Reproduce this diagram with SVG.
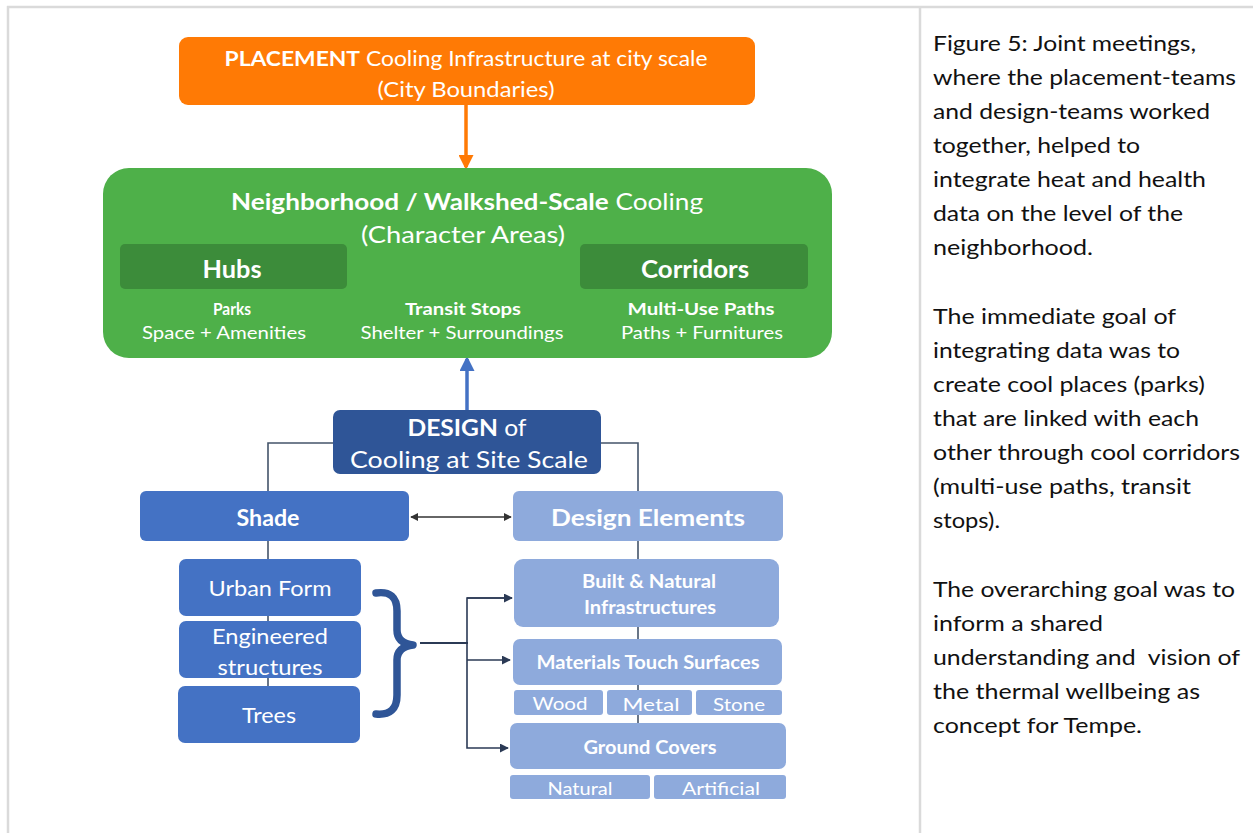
<svg xmlns="http://www.w3.org/2000/svg" width="1253" height="833" viewBox="0 0 1253 833">
  <style>
    .frame { stroke: #dadada; stroke-width: 2.5; fill: none; }
    .t { font-family: Lato, "Liberation Sans", sans-serif; fill: #ffffff; text-anchor: middle; dominant-baseline: central; }
    .b { font-weight: bold; }
    .r { font-weight: normal; }
    .cap { font-family: Lato, "Liberation Sans", sans-serif; fill: #111111; font-size: 21px; }
    .link { stroke: #44546a; stroke-width: 1.6; fill: none; }
    .dbl { stroke: #333333; stroke-width: 1.4; fill: none; }
    .orange { fill: #ff7a05; }
    .green { fill: #4eb049; }
    .dgreen { fill: #3c8c3a; }
    .navy { fill: #2f5597; }
    .blue { fill: #4472c4; }
    .light { fill: #8eaadc; }
  </style>
  <defs>
    <marker id="headOrange" viewBox="0 0 10 10" refX="8" refY="5" markerWidth="15" markerHeight="15" orient="auto" markerUnits="userSpaceOnUse">
      <path d="M0,0 L10,5 L0,10 z" fill="#ff7a05"/>
    </marker>
    <marker id="headBlue" viewBox="0 0 10 10" refX="8" refY="5" markerWidth="15" markerHeight="15" orient="auto" markerUnits="userSpaceOnUse">
      <path d="M0,0 L10,5 L0,10 z" fill="#4472c4"/>
    </marker>
    <marker id="headDark" viewBox="0 0 10 10" refX="9" refY="5" markerWidth="8" markerHeight="8" orient="auto-start-reverse" markerUnits="userSpaceOnUse">
      <path d="M0,0 L10,5 L0,10 z" fill="#333333"/>
    </marker>
    <marker id="headSlate" viewBox="0 0 10 10" refX="9" refY="5" markerWidth="9" markerHeight="9" orient="auto" markerUnits="userSpaceOnUse">
      <path d="M0,0 L10,5 L0,10 z" fill="#2b3a55"/>
    </marker>
  </defs>

  <rect x="0" y="0" width="1253" height="833" fill="#ffffff"/>

  <!-- page frame: top rule, left rule, column divider -->
  <g id="frame">
    <line class="frame" x1="7" y1="7" x2="1253" y2="7"/>
    <line class="frame" x1="8" y1="6" x2="8" y2="833"/>
    <line class="frame" x1="920" y1="6" x2="920" y2="833"/>
  </g>

  <!-- connectors -->
  <g id="connectors">
    <line x1="466" y1="105" x2="466" y2="167" stroke="#ff7a05" stroke-width="3.5" marker-end="url(#headOrange)"/>
    <line x1="467" y1="410" x2="467" y2="359" stroke="#4472c4" stroke-width="3.5" marker-end="url(#headBlue)"/>
    <line class="dbl" x1="349" y1="262" x2="578" y2="262" marker-start="url(#headDark)" marker-end="url(#headDark)"/>
    <line class="dbl" x1="411" y1="517" x2="511" y2="517" marker-start="url(#headDark)" marker-end="url(#headDark)"/>
    <polyline class="link" points="333,443 268,443 268,491"/>
    <polyline class="link" points="601,443 638,443 638,491"/>
    <line class="link" x1="268" y1="541" x2="268" y2="690"/>
    <line class="link" x1="638" y1="541" x2="638" y2="725"/>
    <path d="M376,593 Q397,590 397,611 L397,630 Q397,643 413,645 Q397,647 397,660 L397,695 Q397,716 376,714" fill="none" stroke="#2f5597" stroke-width="7.5" stroke-linecap="round" stroke-linejoin="round"/>
    <line x1="420" y1="643" x2="468" y2="643" stroke="#2b3a55" stroke-width="2"/>
    <polyline points="512,598 467,598 467,748 508,748" fill="none" stroke="#2b3a55" stroke-width="1.6" marker-end="url(#headSlate)"/>
    <line x1="467" y1="598" x2="512" y2="598" stroke="#2b3a55" stroke-width="1.6" marker-end="url(#headSlate)"/>
    <line x1="467" y1="660" x2="510" y2="660" stroke="#2b3a55" stroke-width="1.6" marker-end="url(#headSlate)"/>
  </g>

  <g id="placement">
    <rect class="orange" x="179" y="37" width="576" height="68" rx="9"/>
    <text class="t" x="466" y="57" font-size="21" textLength="483" lengthAdjust="spacingAndGlyphs"><tspan class="b">PLACEMENT</tspan><tspan class="r"> Cooling Infrastructure at city scale</tspan></text>
    <text class="t r" x="466" y="88" font-size="21" textLength="177" lengthAdjust="spacingAndGlyphs">(City Boundaries)</text>
  </g>

  <g id="neighborhood">
    <rect class="green" x="103" y="168" width="729" height="190" rx="26"/>
    <text class="t" x="467" y="201" font-size="23" textLength="472" lengthAdjust="spacingAndGlyphs"><tspan class="b">Neighborhood / Walkshed-Scale</tspan><tspan class="r"> Cooling</tspan></text>
    <text class="t r" x="463" y="234" font-size="23" textLength="204" lengthAdjust="spacingAndGlyphs">(Character Areas)</text>
  </g>

  <g id="hubs">
    <rect class="dgreen" x="120" y="244" width="227" height="45" rx="5"/>
    <text class="t b" x="232" y="268" font-size="24" textLength="59" lengthAdjust="spacingAndGlyphs">Hubs</text>
    <text class="t b" x="232" y="308" font-size="17" textLength="38" lengthAdjust="spacingAndGlyphs">Parks</text>
    <text class="t r" x="224" y="332" font-size="17" textLength="164" lengthAdjust="spacingAndGlyphs">Space + Amenities</text>
  </g>

  <g id="transit">
    <text class="t b" x="463" y="308" font-size="17" textLength="116" lengthAdjust="spacingAndGlyphs">Transit Stops</text>
    <text class="t r" x="462" y="332" font-size="17" textLength="203" lengthAdjust="spacingAndGlyphs">Shelter + Surroundings</text>
  </g>

  <g id="corridors">
    <rect class="dgreen" x="580" y="244" width="228" height="45" rx="5"/>
    <text class="t b" x="695" y="268" font-size="24" textLength="108" lengthAdjust="spacingAndGlyphs">Corridors</text>
    <text class="t b" x="701" y="308" font-size="17" textLength="147" lengthAdjust="spacingAndGlyphs">Multi-Use Paths</text>
    <text class="t r" x="702" y="332" font-size="17" textLength="162" lengthAdjust="spacingAndGlyphs">Paths + Furnitures</text>
  </g>

  <g id="design">
    <rect class="navy" x="333" y="410" width="268" height="64" rx="7"/>
    <text class="t" x="467" y="427" font-size="23" textLength="119" lengthAdjust="spacingAndGlyphs"><tspan class="b">DESIGN</tspan><tspan class="r"> of</tspan></text>
    <text class="t r" x="469" y="459" font-size="23" textLength="238" lengthAdjust="spacingAndGlyphs">Cooling at Site Scale</text>
  </g>

  <g id="shade">
    <rect class="blue" x="140" y="491" width="269" height="50" rx="6"/>
    <text class="t b" x="268" y="517" font-size="23" textLength="63" lengthAdjust="spacingAndGlyphs">Shade</text>
  </g>

  <g id="design-elements">
    <rect class="light" x="513" y="491" width="270" height="50" rx="6"/>
    <text class="t b" x="648" y="517" font-size="23" textLength="194" lengthAdjust="spacingAndGlyphs">Design Elements</text>
  </g>

  <g id="urban-form">
    <rect class="blue" x="179" y="559" width="182" height="57" rx="7"/>
    <text class="t r" x="270" y="587" font-size="22" textLength="123" lengthAdjust="spacingAndGlyphs">Urban Form</text>
  </g>

  <g id="engineered">
    <rect class="blue" x="179" y="621" width="182" height="57" rx="7"/>
    <text class="t r" x="270" y="635" font-size="22" textLength="116" lengthAdjust="spacingAndGlyphs">Engineered</text>
    <text class="t r" x="270" y="666" font-size="22" textLength="105" lengthAdjust="spacingAndGlyphs">structures</text>
  </g>

  <g id="trees">
    <rect class="blue" x="178" y="686" width="182" height="57" rx="7"/>
    <text class="t r" x="269" y="714" font-size="22" textLength="54" lengthAdjust="spacingAndGlyphs">Trees</text>
  </g>

  <g id="built-natural">
    <rect class="light" x="514" y="559" width="265" height="68" rx="9"/>
    <text class="t b" x="649" y="581" font-size="18" textLength="134" lengthAdjust="spacingAndGlyphs">Built &amp; Natural</text>
    <text class="t b" x="650" y="607" font-size="18" textLength="132" lengthAdjust="spacingAndGlyphs">Infrastructures</text>
  </g>

  <g id="materials">
    <rect class="light" x="513" y="639" width="269" height="46" rx="7"/>
    <text class="t b" x="648" y="662" font-size="18" textLength="223" lengthAdjust="spacingAndGlyphs">Materials Touch Surfaces</text>
  </g>

  <g id="wood">
    <rect class="light" x="514" y="690" width="89" height="25" rx="3"/>
    <text class="t r" x="560" y="703" font-size="18" textLength="55" lengthAdjust="spacingAndGlyphs">Wood</text>
  </g>
  <g id="metal">
    <rect class="light" x="607" y="690" width="85" height="25" rx="3"/>
    <text class="t r" x="651" y="704" font-size="18" textLength="57" lengthAdjust="spacingAndGlyphs">Metal</text>
  </g>
  <g id="stone">
    <rect class="light" x="696" y="690" width="86" height="25" rx="3"/>
    <text class="t r" x="739" y="704" font-size="18" textLength="52" lengthAdjust="spacingAndGlyphs">Stone</text>
  </g>

  <g id="ground-covers">
    <rect class="light" x="510" y="723" width="276" height="46" rx="7"/>
    <text class="t b" x="650" y="747" font-size="18" textLength="133" lengthAdjust="spacingAndGlyphs">Ground Covers</text>
  </g>
  <g id="natural">
    <rect class="light" x="510" y="775" width="140" height="24" rx="3"/>
    <text class="t r" x="580" y="788" font-size="18" textLength="65" lengthAdjust="spacingAndGlyphs">Natural</text>
  </g>
  <g id="artificial">
    <rect class="light" x="654" y="775" width="132" height="24" rx="3"/>
    <text class="t r" x="721" y="788" font-size="18" textLength="78" lengthAdjust="spacingAndGlyphs">Artificial</text>
  </g>

  <!-- caption column -->
  <g id="caption">
    <text class="cap" x="933" y="51" textLength="263" lengthAdjust="spacingAndGlyphs">Figure 5: Joint meetings,</text>
    <text class="cap" x="933" y="85" textLength="303" lengthAdjust="spacingAndGlyphs">where the placement-teams</text>
    <text class="cap" x="933" y="119" textLength="277" lengthAdjust="spacingAndGlyphs">and design-teams worked</text>
    <text class="cap" x="933" y="153" textLength="207" lengthAdjust="spacingAndGlyphs">together, helped to</text>
    <text class="cap" x="933" y="187" textLength="273" lengthAdjust="spacingAndGlyphs">integrate heat and health</text>
    <text class="cap" x="933" y="221" textLength="250" lengthAdjust="spacingAndGlyphs">data on the level of the</text>
    <text class="cap" x="933" y="255" textLength="160" lengthAdjust="spacingAndGlyphs">neighborhood.</text>
    <text class="cap" x="933" y="324" textLength="243" lengthAdjust="spacingAndGlyphs">The immediate goal of</text>
    <text class="cap" x="933" y="358" textLength="247" lengthAdjust="spacingAndGlyphs">integrating data was to</text>
    <text class="cap" x="933" y="392" textLength="272" lengthAdjust="spacingAndGlyphs">create cool places (parks)</text>
    <text class="cap" x="933" y="426" textLength="266" lengthAdjust="spacingAndGlyphs">that are linked with each</text>
    <text class="cap" x="933" y="460" textLength="307" lengthAdjust="spacingAndGlyphs">other through cool corridors</text>
    <text class="cap" x="933" y="494" textLength="258" lengthAdjust="spacingAndGlyphs">(multi-use paths, transit</text>
    <text class="cap" x="933" y="528" textLength="67" lengthAdjust="spacingAndGlyphs">stops).</text>
    <text class="cap" x="933" y="597" textLength="302" lengthAdjust="spacingAndGlyphs">The overarching goal was to</text>
    <text class="cap" x="933" y="631" textLength="170" lengthAdjust="spacingAndGlyphs">inform a shared</text>
    <text class="cap" x="933" y="665" textLength="307" lengthAdjust="spacingAndGlyphs" xml:space="preserve">understanding and  vision of</text>
    <text class="cap" x="933" y="699" textLength="267" lengthAdjust="spacingAndGlyphs">the thermal wellbeing as</text>
    <text class="cap" x="933" y="733" textLength="209" lengthAdjust="spacingAndGlyphs">concept for Tempe.</text>
  </g>
</svg>
